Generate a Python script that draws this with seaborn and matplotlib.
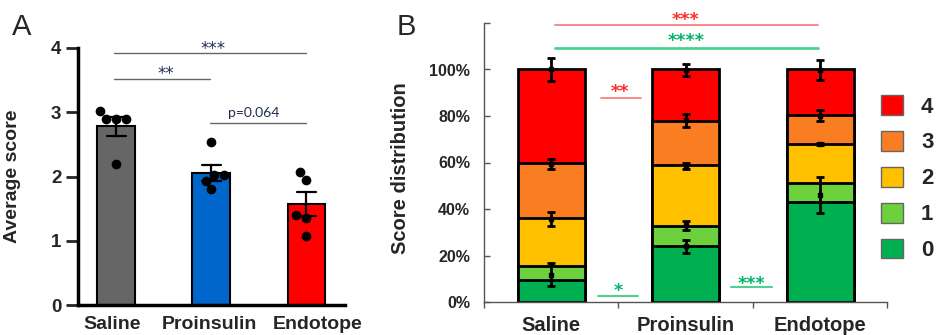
import numpy as np
import pandas as pd
import matplotlib
matplotlib.use("Agg")
import matplotlib.pyplot as plt
import matplotlib.transforms as mtransforms
from matplotlib.patches import Patch
import seaborn as sns

# ---------------- data ----------------
groups = ["Saline", "Proinsulin", "Endotope"]
saline_pts = [3.02, 2.90, 2.90, 2.90, 2.20]
proins_pts = [2.53, 2.02, 2.02, 1.93, 1.80]
endo_pts = [2.07, 1.95, 1.40, 1.35, 1.07]
bar_colors_a = ["#666666", "#0066cc", "#ff0000"]

score_levels = ["0", "1", "2", "3", "4"]
dist_saline = [9.6, 5.7, 20.7, 23.6, 40.4]
dist_proins = [23.9, 8.8, 26.2, 19.0, 22.1]
dist_endo = [43.1, 7.9, 16.9, 12.4, 19.7]
score_colors = ["#00b050", "#6dd13e", "#ffc000", "#fa7d22", "#ff0000"]

err_center_saline = [11.8, 35.8, 59.2, 100.0]
err_sem_saline = [4.9, 3.1, 2.1, 5.0]
err_center_proins = [23.9, 33.0, 58.5, 78.1, 99.7]
err_sem_proins = [2.9, 2.0, 1.1, 2.9, 2.7]
err_center_endo = [46.0, 68.0, 80.1, 99.7]
err_sem_endo = [7.7, 0.5, 2.3, 4.4]

ytick_a = [0, 1, 2, 3, 4]
ytick_b = [0, 20, 40, 60, 80, 100, 120]
ytick_b_labels = ["0%", "20%", "40%", "60%", "80%", "100%", ""]

# ---------------- style ----------------
sns.set_style("ticks")
plt.rcParams["font.family"] = ["Liberation Sans", "DejaVu Sans"]
STAR = ["DejaVu Sans"]

fig = plt.figure(figsize=(9.4, 3.35), dpi=100)
W, H = 940, 335

# ---------------- panel A ----------------
axA = fig.add_axes([78 / W, 30 / H, (345 - 78) / W, (305 - 48) / H])
dfA = pd.DataFrame({
    "group": ["Saline"] * len(saline_pts) + ["Proinsulin"] * len(proins_pts) + ["Endotope"] * len(endo_pts),
    "score": saline_pts + proins_pts + endo_pts,
})
sns.barplot(data=dfA, x="group", y="score", hue="group", order=groups, hue_order=groups,
            palette=bar_colors_a, saturation=1, errorbar="se", capsize=0.2,
            err_kws={"color": "black", "linewidth": 1.6}, width=0.39,
            edgecolor="black", linewidth=1.5, legend=False, ax=axA)
sns.swarmplot(data=dfA, x="group", y="score", order=groups, color="black", size=7, ax=axA, zorder=5)

axA.set_xlim(-0.4, 2.41)
axA.set_ylim(0, 4)
axA.set_yticks(ytick_a)
axA.set_xlabel("")
axA.set_ylabel("Average score", fontsize=14, fontweight="bold")
axA.yaxis.set_label_coords(-0.215, 0.5)
for s in ["top", "right"]:
    axA.spines[s].set_visible(False)
for s in ["left", "bottom"]:
    axA.spines[s].set_linewidth(2.5)
    axA.spines[s].set_color("black")
axA.tick_params(axis="y", length=9, width=2, pad=3, labelsize=13.5)
axA.tick_params(axis="x", length=0, pad=8, labelsize=14)
for lab in axA.get_yticklabels() + axA.get_xticklabels():
    lab.set_fontweight("bold")
# small horizontal nudges of the category labels, as in the original layout
for lab, dx in zip(axA.get_xticklabels(), [-4, -2, 12]):
    lab.set_transform(lab.get_transform() + mtransforms.ScaledTranslation(dx / 100, 0, fig.dpi_scale_trans))

navy = "#1f2d50"
gray = "#666666"
axA.plot([-0.02, 2.0], [3.92, 3.92], color=gray, lw=1, clip_on=False)
axA.text(1.02, 3.99, "***", ha="center", va="center", fontsize=12, color=navy, family=STAR, clip_on=False)
axA.plot([-0.02, 0.99], [3.52, 3.52], color=gray, lw=1, clip_on=False)
axA.text(0.52, 3.60, "**", ha="center", va="center", fontsize=12, color=navy, family=STAR)
axA.plot([0.99, 2.0], [2.83, 2.83], color=gray, lw=1)
axA.text(1.45, 2.89, "p=0.064", ha="center", va="bottom", fontsize=10, color=navy, family=["Lato", "DejaVu Sans"])

fig.text(12 / W, 1 - 35 / H, "A", fontsize=21, ha="left", va="baseline")

# ---------------- panel B ----------------
axB = fig.add_axes([484 / W, 33 / H, (887.5 - 484) / W, (302 - 23) / H])
dists = [dist_saline, dist_proins, dist_endo]
cum = np.cumsum(np.array(dists), axis=1)
for k in range(len(score_levels) - 1, -1, -1):
    sns.barplot(x=groups, y=list(cum[:, k]), color=score_colors[k], width=0.5,
                edgecolor="black", linewidth=2, errorbar=None, ax=axB, saturation=1)

centers = [err_center_saline, err_center_proins, err_center_endo]
sems = [err_sem_saline, err_sem_proins, err_sem_endo]
for i, (c, e) in enumerate(zip(centers, sems)):
    axB.errorbar([i] * len(c), c, yerr=e, fmt="s", color="black", ms=3,
                 capsize=3, elinewidth=2, capthick=2, zorder=6)

axB.set_xlim(-0.5, 2.5)
axB.set_ylim(0, 120)
axB.set_yticks(ytick_b)
axB.set_yticklabels(ytick_b_labels)
axB.set_xticks([0, 1, 2])
axB.set_xticks([-0.5, 0.5, 1.5, 2.5], minor=True)
axB.set_xlabel("")
axB.set_ylabel("Score distribution", fontsize=14.5, fontweight="bold")
axB.yaxis.set_label_coords(-0.183, 0.48)
for s in ["top", "right"]:
    axB.spines[s].set_visible(False)
for s in ["left", "bottom"]:
    axB.spines[s].set_linewidth(1)
    axB.spines[s].set_color("#555555")
axB.tick_params(axis="y", direction="in", length=4, width=1, color="#555555", pad=10, labelsize=11.5)
axB.tick_params(axis="x", which="major", length=0, pad=10, labelsize=14.5)
axB.tick_params(axis="x", which="minor", direction="out", length=4, width=1, color="#555555")
for lab in axB.get_yticklabels() + axB.get_xticklabels():
    lab.set_fontweight("bold")

red_txt, red_line = "#ff2a2a", "#ff8080"
grn_txt, grn_line = "#00b46a", "#4fd08f"
kw = dict(ha="center", va="center", fontsize=12.5, fontweight="bold", family=STAR, clip_on=False)
axB.plot([0.03, 1.98], [119.3, 119.3], color=red_line, lw=1.3, clip_on=False)
axB.text(1.0, 121.5, "***", color=red_txt, **kw)
axB.plot([0.03, 1.98], [109.4, 109.4], color=grn_line, lw=2, clip_on=False)
axB.text(1.0, 112.1, "****", color=grn_txt, **kw)
axB.plot([0.37, 0.67], [87.7, 87.7], color=red_line, lw=1.3)
axB.text(0.51, 90.2, "**", color=red_txt, **kw)
axB.plot([0.345, 0.645], [2.7, 2.7], color=grn_line, lw=1.5)
axB.text(0.5, 4.9, "*", color=grn_txt, **kw)
axB.plot([1.34, 1.64], [6.3, 6.3], color=grn_line, lw=1.5)
axB.text(1.49, 7.9, "***", color=grn_txt, **kw)

handles = [Patch(facecolor=score_colors[k], edgecolor="#666666", linewidth=1, label=score_levels[k])
           for k in range(len(score_levels) - 1, -1, -1)]
leg = fig.legend(handles=handles, loc="upper left", bbox_to_anchor=(881 / W, 1 - 95 / H),
                 frameon=False, prop={"weight": "bold", "size": 16},
                 handlelength=1.0, handleheight=1.0, handletextpad=0.8, labelspacing=0.6,
                 borderaxespad=0, borderpad=0)

fig.text(397 / W, 1 - 35 / H, "B", fontsize=21, ha="left", va="baseline")

fig.savefig("out.png", dpi=100)
